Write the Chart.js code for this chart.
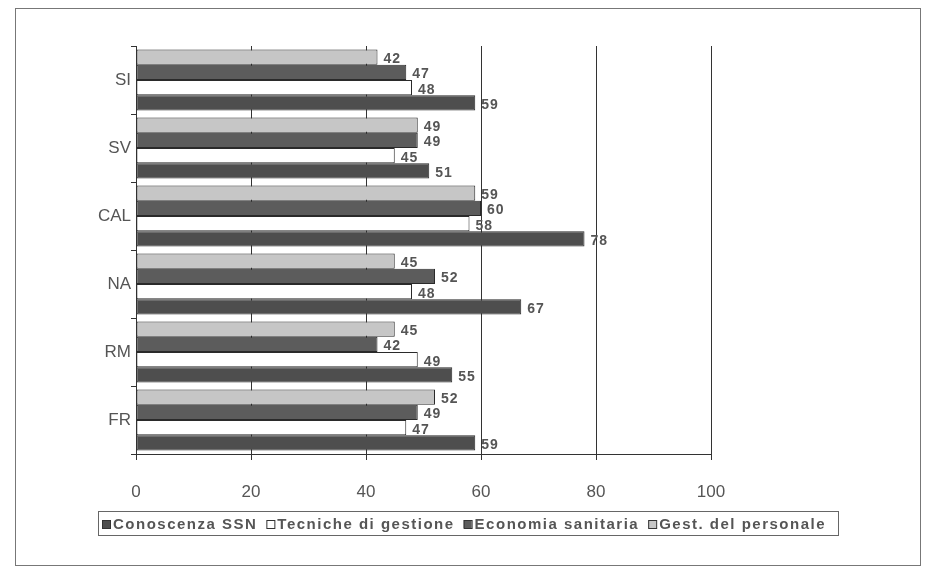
<!DOCTYPE html>
<html>
<head>
<meta charset="utf-8">
<script src="https://cdn.jsdelivr.net/npm/chart.js@4/dist/chart.umd.min.js"></script>
<style>
  body { margin: 0; background: #fff; }
  canvas { display: block; }
</style>
</head>
<body>
<canvas id="myChart" width="933" height="571"></canvas>
<script>
// categories top to bottom
var categories = ["SI", "SV", "CAL", "NA", "RM", "FR"];
var conoscenzaSSN = [59, 51, 78, 67, 55, 59];
var tecnicheGestione = [48, 45, 58, 48, 49, 47];
var economiaSanitaria = [47, 49, 60, 52, 42, 49];
var gestPersonale = [42, 49, 59, 45, 45, 52];
var xTicks = [0, 20, 40, 60, 80, 100];

// frame round the whole picture
const framePlugin = {
    id: "frame",
    beforeDraw: (chart) => {
        const ctx = chart.ctx;
        ctx.save();
        ctx.fillStyle = "#fff";
        ctx.fillRect(0, 0, chart.width, chart.height);
        ctx.strokeStyle = "#777";
        ctx.lineWidth = 1;
        ctx.strokeRect(15.5, 8.5, 905, 557);
        ctx.restore();
    }
};

// value labels at the end of every bar
const valueLabels = {
    id: "valueLabels",
    afterDatasetsDraw: (chart) => {
        const ctx = chart.ctx;
        ctx.save();
        ctx.font = "bold 14px 'Liberation Sans', Arial, sans-serif";
        ctx.letterSpacing = "1px";
        ctx.fillStyle = "#555";
        ctx.textAlign = "left";
        ctx.textBaseline = "middle";
        chart.data.datasets.forEach((ds, i) => {
            chart.getDatasetMeta(i).data.forEach((bar, j) => {
                ctx.fillText(ds.data[j], bar.x + 6, bar.y + 2);
            });
        });
        ctx.restore();
    }
};

// legend in a box, same order as the original (reverse of the datasets)
const boxLegend = {
    id: "boxLegend",
    afterDraw: (chart) => {
        const ctx = chart.ctx;
        ctx.save();
        ctx.strokeStyle = "#666";
        ctx.lineWidth = 1;
        ctx.strokeRect(98.5, 511.5, 740, 24);
        ctx.font = "bold 15px 'Liberation Sans', Arial, sans-serif";
        ctx.letterSpacing = "1.5px";
        ctx.textBaseline = "middle";
        const items = chart.data.datasets.slice().reverse();
        let x = 102;
        const y = 524;
        items.forEach((ds) => {
            ctx.fillStyle = ds.backgroundColor;
            ctx.fillRect(x, y - 4, 8, 8);
            ctx.strokeStyle = "#333";
            ctx.strokeRect(x + 0.5, y - 3.5, 8, 8);
            ctx.fillStyle = "#555";
            ctx.fillText(ds.label, x + 11, y + 1);
            x += 11 + ctx.measureText(ds.label).width + 9;
        });
        ctx.restore();
    }
};

new Chart("myChart", {
    type: "bar",
    data: {
        labels: categories,
        datasets: [
            { label: "Gest. del personale", data: gestPersonale, backgroundColor: "#c6c6c6" },
            { label: "Economia sanitaria", data: economiaSanitaria, backgroundColor: "#5c5c5c" },
            { label: "Tecniche di gestione", data: tecnicheGestione, backgroundColor: "#ffffff" },
            { label: "Conoscenza SSN", data: conoscenzaSSN, backgroundColor: "#4e4e4e" }
        ].map(d => Object.assign(d, {
            borderColor: "#2a2a2a",
            borderWidth: 1,
            borderSkipped: false,
            barPercentage: 1,
            categoryPercentage: 0.9
        }))
    },
    options: {
        indexAxis: "y",
        responsive: false,
        animation: false,
        layout: { padding: { top: 46, left: 20, right: 222, bottom: 67 } },
        plugins: {
            legend: { display: false },
            tooltip: { enabled: false }
        },
        scales: {
            x: {
                min: 0,
                max: 100,
                afterBuildTicks: (s) => { s.ticks = xTicks.map(v => ({ value: v })); },
                afterFit: (s) => { s.height = 50; },
                grid: { color: "#333", lineWidth: 1, tickLength: 6, tickColor: "#333" },
                border: { display: true, color: "#333" },
                ticks: {
                    padding: 22,
                    color: "#555",
                    font: { family: "'Liberation Sans', Arial, sans-serif", size: 17 }
                }
            },
            y: {
                offset: true,
                afterFit: (s) => { s.width = 116; },
                grid: { offset: true, drawOnChartArea: false, tickLength: 5, tickColor: "#333" },
                border: { display: true, color: "#333" },
                ticks: {
                    padding: 0,
                    color: "#555",
                    font: { family: "'Liberation Sans', Arial, sans-serif", size: 17 }
                }
            }
        }
    },
    plugins: [framePlugin, valueLabels, boxLegend]
});
</script>
</body>
</html>
